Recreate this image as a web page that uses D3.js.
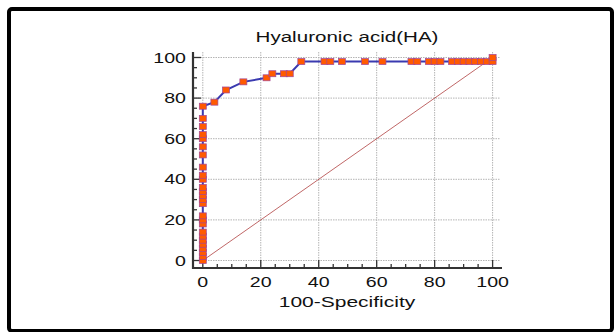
<!DOCTYPE html>
<html>
<head>
<meta charset="utf-8">
<script src="https://cdn.jsdelivr.net/npm/d3@7"></script>
<style>
  body { margin: 0; background: #fff; }
  svg text { font-family: "Liberation Sans", Arial, sans-serif; fill: #111; }
</style>
</head>
<body>
<div id="chart"></div>
<script>
// ROC points: 100-specificity (x) and sensitivity (y)
const specPts = [0,0,0,0,0,0,0,0,0,0,0,0,0,0,0,0,0,0,0,0,0,0,0,0,0,0,
  4,8,14,22,24,28,30,34,42,44,48,56,62,72,74,78,80,82,86,88,90,92,94,96,98,100,100];
const sensPts = [0,2,4,6,8,10,12,14,18,20,22,28,30,32,34,36,40,42,46,52,56,60,62,66,70,76,
  78,84,88,90,92,92,92,98,98,98,98,98,98,98,98,98,98,98,98,98,98,98,98,98,98,98,100];
const majorTicks = [0,20,40,60,80,100];
const minorTicks = d3.range(0, 101, 5);
const title = "Hyaluronic acid(HA)";
const xLabel = "100-Specificity";

const W = 614, H = 332;
const svg = d3.select("#chart").append("svg")
    .attr("width", W).attr("height", H);

svg.append("rect").attr("width", W).attr("height", H).attr("fill", "#fff");
// outer frame
svg.append("rect")
    .attr("x", 9).attr("y", 9).attr("width", 603).attr("height", 322)
    .attr("rx", 3)
    .attr("fill", "none").attr("stroke", "#000").attr("stroke-width", 4);

const x = d3.scaleLinear().domain([0, 100]).range([202.8, 492.6]);
const y = d3.scaleLinear().domain([0, 100]).range([260.5, 57.5]);
const axX = 193, axY = 268, topY = 52, rightX = 502;
const sx = 1.4; // text in the source is stretched sideways

// grid
const grid = svg.append("g").attr("stroke", "#b4b4b4").attr("stroke-width", 1)
    .attr("stroke-dasharray", "1.5,1");
grid.selectAll(".gv").data(majorTicks).join("line")
    .attr("x1", d => x(d)).attr("x2", d => x(d))
    .attr("y1", topY).attr("y2", axY);
grid.selectAll(".gh").data(majorTicks).join("line")
    .attr("y1", d => y(d)).attr("y2", d => y(d))
    .attr("x1", axX).attr("x2", rightX - 2);

// axes with inward ticks
const axes = svg.append("g").attr("stroke", "#333");
axes.append("line").attr("x1", axX).attr("x2", axX).attr("y1", topY).attr("y2", axY + 1)
    .attr("stroke-width", 2.2);
axes.append("line").attr("x1", axX - 1).attr("x2", rightX).attr("y1", axY).attr("y2", axY)
    .attr("stroke-width", 2.2);
axes.selectAll(".ty").data(minorTicks).join("line")
    .attr("x1", axX).attr("x2", d => axX + (d % 20 === 0 ? 8 : 4))
    .attr("y1", d => y(d)).attr("y2", d => y(d)).attr("stroke-width", 1.3);
axes.selectAll(".tx").data(minorTicks).join("line")
    .attr("y1", axY).attr("y2", d => axY - (d % 20 === 0 ? 8 : 4))
    .attr("x1", d => x(d)).attr("x2", d => x(d)).attr("stroke-width", 1.3);

// tick labels
svg.selectAll(".ly").data(majorTicks).join("text")
    .attr("transform", d => `translate(186,${y(d) + 5}) scale(${sx},1)`)
    .attr("text-anchor", "end").attr("font-size", 14)
    .text(d => d);
svg.selectAll(".lx").data(majorTicks).join("text")
    .attr("transform", d => `translate(${x(d)},287) scale(${sx},1)`)
    .attr("text-anchor", "middle").attr("font-size", 14)
    .text(d => d);

svg.append("text")
    .attr("transform", `translate(347,42) scale(1.47,1)`)
    .attr("text-anchor", "middle").attr("font-size", 14)
    .text(title);
svg.append("text")
    .attr("transform", `translate(347,307) scale(1.5,1)`)
    .attr("text-anchor", "middle").attr("font-size", 14)
    .text(xLabel);

// reference diagonal
svg.append("line")
    .attr("x1", x(0)).attr("y1", y(0)).attr("x2", x(100)).attr("y2", y(100))
    .attr("stroke", "#b04040").attr("stroke-width", 0.8);

const pts = specPts.map((s, i) => [s, sensPts[i]]);
svg.append("path")
    .datum(pts)
    .attr("fill", "none").attr("stroke", "#3a3ab0").attr("stroke-width", 2)
    .attr("d", d3.line().x(d => x(d[0])).y(d => y(d[1])));

svg.selectAll(".pt").data(pts).join("rect")
    .attr("x", d => x(d[0]) - 3.5).attr("y", d => y(d[1]) - 3)
    .attr("width", 7).attr("height", 6)
    .attr("fill", "#ff5a00").attr("stroke", "#a0459a").attr("stroke-width", 0.7);
</script>
</body>
</html>
